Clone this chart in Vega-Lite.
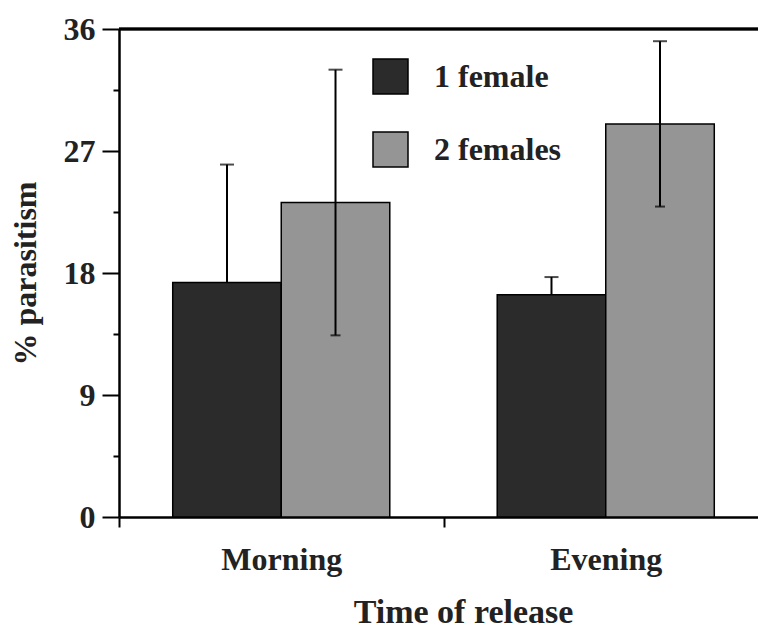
{
  "$schema": "https://vega.github.io/schema/vega-lite/v6.json",
  "width": 639,
  "height": 488,
  "autosize": {"type": "none"},
  "padding": {"left": 119, "top": 29, "right": 0, "bottom": 112},
  "background": "white",
  "config": {"view": {"stroke": null}, "font": "Liberation Serif"},
  "data": {
    "values": [
      {"time": "Morning", "group": "1 female", "mean": 17.3, "lower": 8.6, "upper": 26.0},
      {"time": "Morning", "group": "2 females", "mean": 23.2, "lower": 13.4, "upper": 33.0},
      {"time": "Evening", "group": "1 female", "mean": 16.4, "lower": 15.1, "upper": 17.7},
      {"time": "Evening", "group": "2 females", "mean": 29.0, "lower": 22.9, "upper": 35.1}
    ]
  },
  "layer": [
    {
      "mark": {"type": "bar", "stroke": "black", "strokeWidth": 1.5, "fillOpacity": 1},
      "encoding": {
        "x": {
          "field": "time", "type": "nominal", "sort": ["Morning", "Evening"],
          "scale": {"range": [0, 649], "paddingInner": 0, "paddingOuter": 0},
          "title": "Time of release",
          "axis": {
            "tickBand": "extent", "tickSize": 10, "tickWidth": 2, "tickColor": "black",
            "domainColor": "black", "domainWidth": 2.5, "labelAngle": 0,
            "labelFont": "Liberation Serif", "labelFontSize": 32, "labelFontWeight": "bold", "labelColor": "#222",
            "labelPadding": 17,
            "titleFont": "Liberation Serif", "titleFontSize": 34, "titleFontWeight": "bold", "titleColor": "#222",
            "titlePadding": 20, "titleX": 344
          }
        },
        "xOffset": {"field": "group", "type": "nominal", "scale": {"paddingInner": 0, "paddingOuter": 0.495}},
        "y": {
          "field": "mean", "type": "quantitative",
          "scale": {"domain": [0, 36], "nice": false},
          "title": "% parasitism",
          "axis": {
            "values": [0, 4.5, 9, 13.5, 18, 22.5, 27, 31.5, 36],
            "labelExpr": "datum.value % 9 === 0 ? datum.label : ''",
            "tickSize": {"condition": {"test": "datum.value % 9 === 0", "value": 17}, "value": 6},
            "tickWidth": 2, "tickColor": "black",
            "domainColor": "black", "domainWidth": 2.5, "grid": false,
            "labelFont": "Liberation Serif", "labelFontSize": 32, "labelFontWeight": "bold", "labelColor": "#222",
            "labelPadding": 7,
            "titleFont": "Liberation Serif", "titleFontSize": 32, "titleFontWeight": "bold", "titleColor": "#222",
            "titlePadding": 21
          }
        },
        "fill": {
          "field": "group", "type": "nominal",
          "scale": {"domain": ["1 female", "2 females"], "range": ["#2b2b2b", "#959595"]},
          "legend": {
            "orient": "none", "legendX": 253, "legendY": 29, "title": null, "padding": 0,
            "symbolType": "square", "symbolSize": 1225, "symbolStrokeColor": "black", "symbolStrokeWidth": 1.5,
            "symbolOpacity": 1,
            "labelFont": "Liberation Serif", "labelFontSize": 32, "labelFontWeight": "bold", "labelColor": "#222",
            "labelOffset": 25, "rowPadding": 32
          }
        }
      }
    },
    {
      "transform": [{"filter": "datum.group === '1 female'"}],
      "mark": {"type": "rule", "strokeWidth": 2, "color": "black"},
      "encoding": {
        "x": {"field": "time", "type": "nominal", "sort": ["Morning", "Evening"], "title": "Time of release"},
        "xOffset": {"field": "group", "type": "nominal"},
        "y": {"field": "mean", "type": "quantitative", "title": "% parasitism"},
        "y2": {"field": "upper"}
      }
    },
    {
      "transform": [{"filter": "datum.group === '2 females'"}],
      "mark": {"type": "rule", "strokeWidth": 2, "color": "black"},
      "encoding": {
        "x": {"field": "time", "type": "nominal", "sort": ["Morning", "Evening"], "title": "Time of release"},
        "xOffset": {"field": "group", "type": "nominal"},
        "y": {"field": "lower", "type": "quantitative", "title": "% parasitism"},
        "y2": {"field": "upper"}
      }
    },
    {
      "mark": {"type": "tick", "thickness": 2, "size": 14, "color": "black"},
      "encoding": {
        "x": {"field": "time", "type": "nominal", "sort": ["Morning", "Evening"], "title": "Time of release"},
        "xOffset": {"field": "group", "type": "nominal"},
        "y": {"field": "upper", "type": "quantitative", "title": "% parasitism"}
      }
    },
    {
      "transform": [{"filter": "datum.group === '2 females'"}],
      "mark": {"type": "tick", "thickness": 2, "size": 10, "color": "black"},
      "encoding": {
        "x": {"field": "time", "type": "nominal", "sort": ["Morning", "Evening"], "title": "Time of release"},
        "xOffset": {"field": "group", "type": "nominal"},
        "y": {"field": "lower", "type": "quantitative", "title": "% parasitism"}
      }
    },
    {
      "mark": {"type": "rule", "strokeWidth": 2.5, "color": "black"},
      "encoding": {"y": {"datum": 36}}
    }
  ]
}
